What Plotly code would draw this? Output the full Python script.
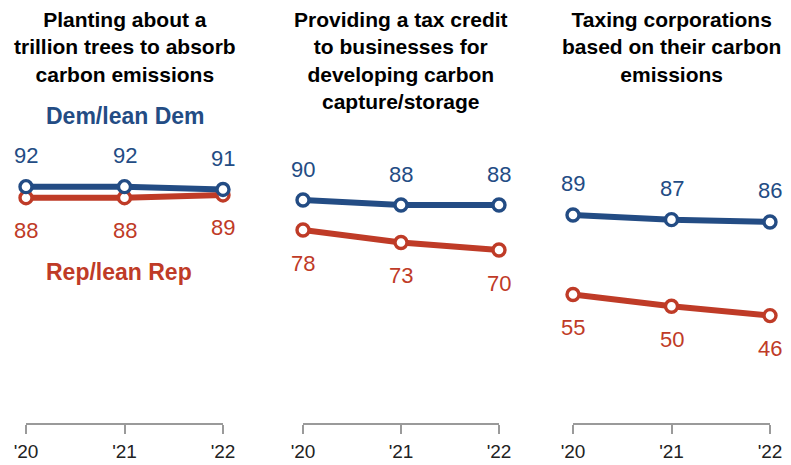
import plotly.graph_objects as go

# ---- data ----
years = [2020, 2021, 2022]
year_labels = ["'20", "'21", "'22"]

panel_titles = [
    "Planting about a<br>trillion trees to absorb<br>carbon emissions",
    "Providing a tax credit<br>to businesses for<br>developing carbon<br>capture/storage",
    "Taxing corporations<br>based on their carbon<br>emissions",
]

dem_trees = [92, 92, 91]
rep_trees = [88, 88, 89]
dem_credit = [90, 88, 88]
rep_credit = [78, 73, 70]
dem_tax = [89, 87, 86]
rep_tax = [55, 50, 46]

dem_series = [dem_trees, dem_credit, dem_tax]
rep_series = [rep_trees, rep_credit, rep_tax]

dem_name = "Dem/lean Dem"
rep_name = "Rep/lean Rep"

# ---- style ----
OFF = 8  # page body margin in the browser
W, H = 791 - OFF, 465 - OFF
BLUE = "#234C84"
RED = "#BF3B27"
FONT = "Liberation Sans, Arial, sans-serif"

x_domains_px = [(26, 223), (303, 499), (573, 770)]
y_ranges = [(6.1, 112.6), (0.8, 118.0), (0.1, 125.3)]
plot_top_px, plot_bottom_px = 130, 423


def px_x(x):
    return (x - OFF) / W


def px_y(y):
    return 1 - (y - OFF) / H


fig = go.Figure()
annotations = []

for i in range(3):
    n = "" if i == 0 else str(i + 1)
    xa, ya = "x" + n, "y" + n
    for vals, color, shift in ((rep_series[i], RED, -33), (dem_series[i], BLUE, 31)):
        fig.add_trace(go.Scatter(
            x=years, y=vals, xaxis=xa, yaxis=ya,
            mode="lines+markers",
            line=dict(color=color, width=6),
            marker=dict(size=12, color="white", line=dict(color=color, width=3.4)),
            cliponaxis=False, hoverinfo="skip",
        ))
        for xv, yv in zip(years, vals):
            annotations.append(dict(
                x=xv, y=yv, xref=xa, yref=ya, text=str(yv), showarrow=False,
                yshift=shift, xanchor="center", yanchor="middle",
                font=dict(family=FONT, size=22, color=color),
            ))
    x0, x1 = x_domains_px[i]
    dom = [px_x(x0), px_x(x1)]
    fig.update_layout(**{
        "xaxis" + n: dict(
            domain=dom, range=[years[0], years[-1]],
            tickmode="array", tickvals=years, ticktext=year_labels,
            showline=True, linecolor="#9a9a9a", linewidth=2,
            ticks="outside", ticklen=9, tickwidth=2, tickcolor="#9a9a9a",
            ticklabelstandoff=1,
            showgrid=False, zeroline=False, fixedrange=True,
            tickfont=dict(family=FONT, size=19, color="#222"),
            anchor=ya, automargin=False,
        ),
        "yaxis" + n: dict(
            domain=[px_y(plot_bottom_px), px_y(plot_top_px)],
            range=list(y_ranges[i]), visible=False, fixedrange=True,
            anchor=xa, automargin=False,
        ),
    })
    annotations.append(dict(
        x=(dom[0] + dom[1]) / 2, y=px_y(6), xref="paper", yref="paper",
        text="<b>" + panel_titles[i] + "</b>", showarrow=False,
        xanchor="center", yanchor="top", align="center",
        font=dict(family=FONT, size=21, color="#000"),
    ))

annotations.append(dict(
    x=px_x(125), y=px_y(115.5), xref="paper", yref="paper",
    text="<b>" + dem_name + "</b>", showarrow=False,
    xanchor="center", yanchor="middle",
    font=dict(family=FONT, size=23, color=BLUE),
))
annotations.append(dict(
    x=px_x(119), y=px_y(271.7), xref="paper", yref="paper",
    text="<b>" + rep_name + "</b>", showarrow=False,
    xanchor="center", yanchor="middle",
    font=dict(family=FONT, size=23, color=RED),
))

fig.update_layout(
    width=W, height=H, autosize=False,
    margin=dict(l=0, r=0, t=0, b=0),
    paper_bgcolor="white", plot_bgcolor="white",
    showlegend=False, annotations=annotations,
    font=dict(family=FONT),
)

fig.write_html("out.html")
